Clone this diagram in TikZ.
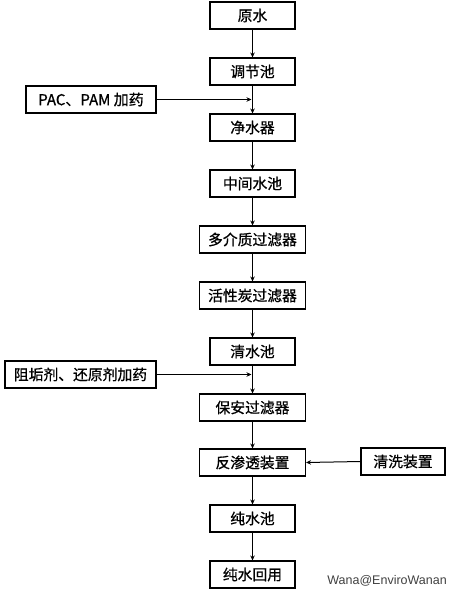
\documentclass[tikz,border=0pt]{standalone}
\usepackage{fontspec}
\setmainfont{Liberation Sans}
\newfontfamily\cjk[FakeBold=0.8]{Noto Sans CJK SC}
\usetikzlibrary{arrows.meta}
\begin{document}
\begin{tikzpicture}[x=1pt,y=-1pt,
  box/.style={draw,line width=1.1pt,inner sep=0pt,minimum height=27pt,font=\cjk\fontsize{14.8}{16}\selectfont},
  sbox/.style={box,minimum width=85pt},
  wbox/.style={box,minimum width=106pt},
  flow/.style={line width=1pt,-{Stealth[length=5pt,width=4.5pt]}}]
\useasboundingbox (0,0) rectangle (450,591);
\node[sbox] (a) at (252.5,15.5) {原水};
\node[sbox] (b) at (252.5,71.5) {调节池};
\node[sbox] (c) at (252.5,127.5) {净水器};
\node[sbox] (d) at (252.5,183.5) {中间水池};
\node[wbox] (e) at (252.5,239.5) {多介质过滤器};
\node[wbox] (f) at (252.5,295.5) {活性炭过滤器};
\node[sbox] (g) at (252.5,351.5) {清水池};
\node[wbox] (h) at (252.5,407.5) {保安过滤器};
\node[wbox] (i) at (252.5,462.5) {反渗透装置};
\node[sbox] (j) at (252.5,518.5) {纯水池};
\node[sbox] (k) at (252.5,574.5) {纯水回用};
\node[box,minimum width=130pt] (p) at (91,99.5) {\fontsize{15}{16}\selectfont PAC{\cjk 、}PAM {\cjk 加药}};
\node[box,minimum width=151pt] (q) at (80.5,374.5) {阻垢剂、还原剂加药};
\node[box,minimum width=84pt] (r) at (403,461.5) {清洗装置};
\coordinate (pe) at (251.5,99.5);
\coordinate (qe) at (251.5,374.5);
\foreach \u/\v in {a/b,b/c,c/d,d/e,e/f,f/g,g/h,h/i,i/j,j/k}
  \draw[flow] (\u.south) -- (\v.north);
\draw[flow] (p.east) -- (pe);
\draw[flow] (q.east) -- (qe);
\draw[flow] (r.west) -- (i.east);
\node[anchor=east,font=\fontsize{12.5}{14}\selectfont,text=black!75,inner sep=0pt] (w) at (447,581) {Wana@EnviroWanan};
\end{tikzpicture}
\end{document}
